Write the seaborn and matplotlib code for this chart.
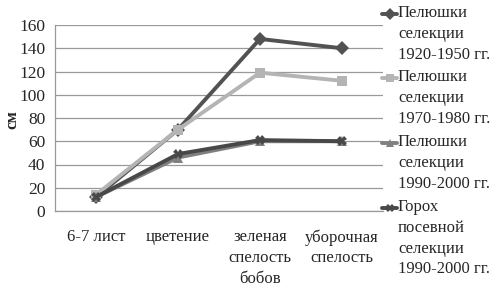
import matplotlib
matplotlib.use("Agg")
import matplotlib.pyplot as plt
import seaborn as sns
import pandas as pd
from matplotlib.ticker import MultipleLocator
from matplotlib.lines import Line2D

categories = ["6-7 лист", "цветение", "зеленая\nспелость\nбобов", "уборочная\nспелость"]
series_names = ["Пелюшки\nселекции\n1920-1950 гг.", "Пелюшки\nселекции\n1970-1980 гг.",
                "Пелюшки\nселекции\n1990-2000 гг.", "Горох\nпосевной\nселекции\n1990-2000 гг."]
s1 = [12, 70, 148, 140]
s2 = [14, 70, 119, 112]
s3 = [12, 46, 60, 60]
s4 = [12, 49, 61, 60]

rows = []
for name, vals in zip(series_names, [s1, s2, s3, s4]):
    for i, v in enumerate(vals):
        rows.append({"stage": i, "value": v, "series": name})
df = pd.DataFrame(rows)

sns.set_style("white")
plt.rcParams["font.family"] = ["Liberation Serif", "DejaVu Serif"]

W, H = 495, 287
fig = plt.figure(figsize=(W / 100, H / 100), dpi=100)
ax = fig.add_axes([55 / W, 1 - 211 / H, (383 - 55) / W, (211 - 25) / H])

colors = ["#525252", "#b4b4b4", "#808080", "#484848"]
mk = ["D", "s", "^", "X"]
palette = dict(zip(series_names, colors))
markers = dict(zip(series_names, mk))
sns.lineplot(data=df, x="stage", y="value", hue="series", style="series",
             hue_order=series_names, style_order=series_names, palette=palette,
             markers=markers, dashes=False, linewidth=2.8, markersize=7,
             markeredgewidth=0, ax=ax, legend=False)

ax.set_xlim(-0.5, 3.5)
ax.set_ylim(0, 160)
ax.yaxis.set_major_locator(MultipleLocator(20))
ax.yaxis.set_minor_locator(MultipleLocator(4))
ax.set_xticks([0, 1, 2, 3])
ax.set_xticklabels(categories, fontsize=12, linespacing=1.4, va="top")
ax.set_xticks([-0.5, 0.5, 1.5, 2.5, 3.5], minor=True)
ax.tick_params(axis="x", which="major", length=0, pad=13)
ax.tick_params(axis="x", which="minor", length=4, color="#999999", direction="out")
ax.tick_params(axis="y", which="major", labelsize=12.5, length=4, color="#999999", direction="out", pad=3)
ax.tick_params(axis="y", which="minor", length=2, color="#bbbbbb", direction="out")
ax.yaxis.grid(True, color="#999999", linewidth=0.9)
ax.set_axisbelow(True)
for sp in ["top", "right"]:
    ax.spines[sp].set_visible(False)
for sp in ["left", "bottom"]:
    ax.spines[sp].set_color("#999999")
    ax.spines[sp].set_linewidth(0.9)
ax.set_xlabel("")
ax.set_ylabel("")
fig.text(12 / W, 1 - 120 / H, "см", fontsize=12, fontweight="bold",
         rotation=90, ha="center", va="center")

# legend drawn manually: handle at first text line of each entry
entry_y = [14, 78, 143, 208]
for name, c, m, y in zip(series_names, colors, mk, entry_y):
    fy = 1 - y / H
    fig.add_artist(Line2D([382 / W, 397 / W], [fy, fy], color=c, linewidth=2.8,
                          transform=fig.transFigure))
    fig.add_artist(Line2D([389.5 / W], [fy], color=c, marker=m, markersize=6,
                          markeredgewidth=0, transform=fig.transFigure))
    fig.text(398 / W, fy + 9 / H, name, fontsize=12, va="top", ha="left",
             linespacing=1.4)

fig.savefig("out.png", dpi=100)
